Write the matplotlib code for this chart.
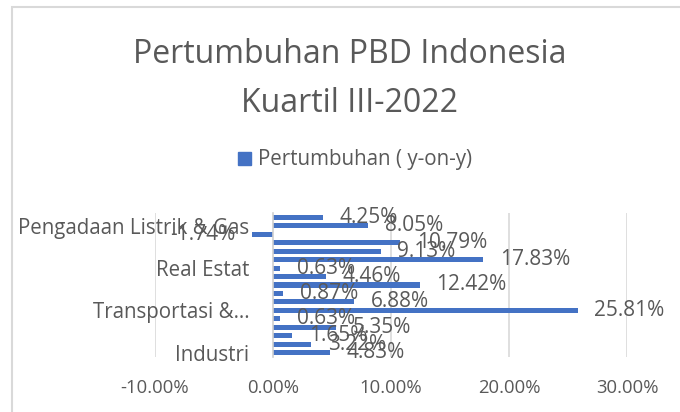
'''
    Grafik pertumbuhan PDB Indonesia per lapangan usaha, kuartil III-2022
'''
import matplotlib
matplotlib.use('Agg')
import matplotlib.pyplot as plt
from matplotlib.patches import Rectangle, Patch
from matplotlib.ticker import FuncFormatter

plt.rcParams['font.family'] = ['Open Sans', 'DejaVu Sans']

# Data (dari bawah ke atas)
kategori = ['Industri', 'Pertambangan & Penggalian',
            'Pertanian, Kehutanan & Perikanan', 'Perdagangan', 'Konstruksi',
            'Transportasi & Pergudangan', 'Informasi & Komunikasi',
            'Jasa Keuangan', 'Jasa Lainnya', 'Jasa Pendidikan', 'Real Estat',
            'Akomodasi & Makan Minum', 'Jasa Perusahaan',
            'Administrasi Pemerintahan', 'Jasa Kesehatan',
            'Pengadaan Listrik & Gas', 'Pengadaan Air']
pertumbuhan = [4.83, 3.22, 1.65, 5.35, 0.63, 25.81, 6.88, 0.87, 12.42, 4.46,
               0.63, 17.83, 9.13, 10.79, -1.74, 8.05, 4.25]
# Excel hanya menampilkan label tiap 5 kategori
label_tampil = {0: 'Industri', 5: 'Transportasi &…', 10: 'Real Estat',
                15: 'Pengadaan Listrik & Gas'}
nilai_x = [-10, 0, 10, 20, 30]

warna_bar = '#4472C4'
warna_teks = '#595959'
warna_grid = '#D9D9D9'

fig = plt.figure(figsize=(6.8, 4.12), dpi=100)
ax = fig.add_axes([155 / 680, 1 - 357 / 412, 472 / 680, 144 / 412])

posisi = list(range(len(kategori)))
ax.barh(posisi, pertumbuhan, height=0.6, color=warna_bar, zorder=3)

# Label data di ujung batang
for p, v in zip(posisi, pertumbuhan):
    if v >= 0:
        ax.annotate('{0:.2f}%'.format(v), (v, p), xytext=(12, 0),
                    textcoords='offset points', ha='left', va='center',
                    fontsize=15, color=warna_teks, zorder=4)
    else:
        ax.annotate('{0:.2f}%'.format(v), (v, p), xytext=(-12, 0),
                    textcoords='offset points', ha='right', va='center',
                    fontsize=15, color=warna_teks, zorder=4)

ax.set_xlim(-10, 30)
ax.set_ylim(-0.5, len(kategori) - 0.5)
ax.set_xticks(nilai_x)
ax.xaxis.set_major_formatter(FuncFormatter(lambda x, pos: '{0:.2f}%'.format(x)))
ax.set_yticks(list(label_tampil.keys()))
ax.set_yticklabels(list(label_tampil.values()))

# Garis bantu vertikal
for x in nilai_x:
    if x != 0:
        ax.axvline(x, color=warna_grid, lw=1.2, zorder=1)

for s in ['top', 'right', 'bottom']:
    ax.spines[s].set_visible(False)
ax.spines['left'].set_position(('data', 0))
ax.spines['left'].set_color('#D0D0D0')
ax.spines['left'].set_linewidth(1.2)
ax.spines['left'].set_zorder(4)

ax.tick_params(axis='x', length=0, pad=16, labelsize=13.3, labelcolor=warna_teks)
ax.tick_params(axis='y', length=0, pad=17, labelsize=14.8, labelcolor=warna_teks)

# Judul dan legenda
fig.text(350 / 680, 1 - 79 / 412, 'Pertumbuhan PBD Indonesia\nKuartil III-2022',
         ha='center', va='center', fontsize=23, color=warna_teks,
         linespacing=1.66)
fig.legend(handles=[Patch(color=warna_bar, label='Pertumbuhan ( y-on-y)')],
           loc='center', bbox_to_anchor=(355 / 680, 1 - 160 / 412),
           frameon=False, fontsize=14.8, labelcolor=warna_teks,
           handlelength=0.62, handleheight=0.62, handletextpad=0.35)

# Bingkai area grafik
fig.add_artist(Rectangle((12 / 680, -0.2), 1.2, 1.2 - 7 / 412,
                         transform=fig.transFigure, fill=False,
                         ec=warna_grid, lw=1.5))

fig.savefig('out.png', dpi=100)
